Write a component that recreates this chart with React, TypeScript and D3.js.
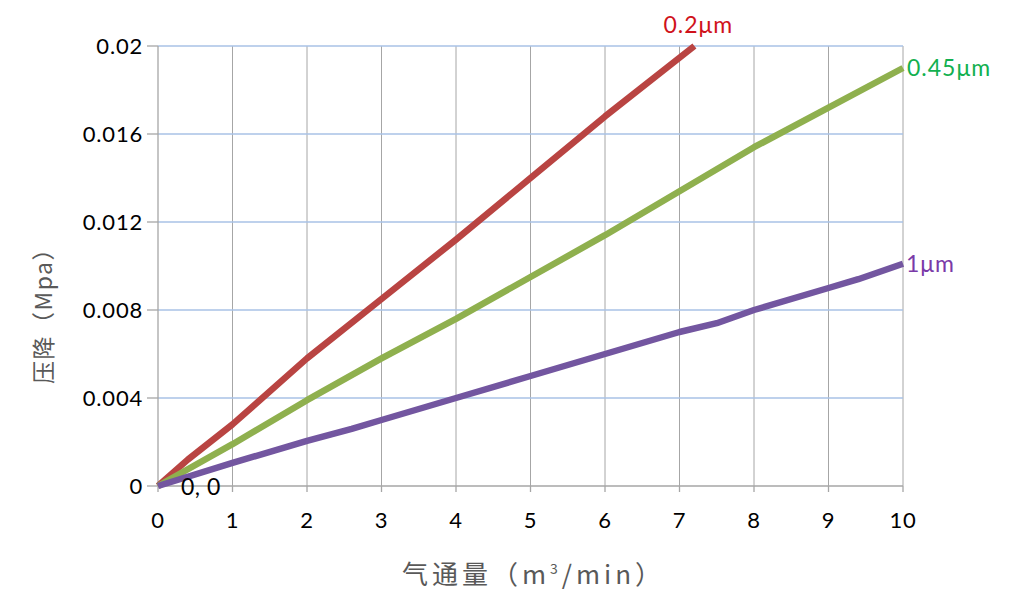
import * as d3 from "d3";

// flow (m3/min) vs pressure drop (MPa)
const flow02 = [0, 0.4, 1, 2, 3, 4, 5, 6, 7.2];
const drop02 = [0, 0.0012, 0.0028, 0.0058, 0.0085, 0.0112, 0.014, 0.0168, 0.02];

const flow045 = [0, 1, 2, 3, 4, 5, 6, 7, 8, 9, 10];
const drop045 = [0, 0.0019, 0.0039, 0.0058, 0.0076, 0.0095, 0.0114, 0.0134, 0.0154, 0.0172, 0.019];

const flow1 = [0, 1, 2, 2.6, 3, 4, 5, 6, 7, 7.5, 8, 9, 9.4, 10];
const drop1 = [0, 0.00105, 0.00205, 0.0026, 0.003, 0.004, 0.005, 0.006, 0.007, 0.0074, 0.008, 0.009, 0.0094, 0.0101];

const xTicks = [0, 1, 2, 3, 4, 5, 6, 7, 8, 9, 10];
const yTicks = [0, 0.004, 0.008, 0.012, 0.016, 0.02];
const yTickLabels = ["0", "0.004", "0.008", "0.012", "0.016", "0.02"];

const seriesNames = ["0.2μm", "0.45μm", "1μm"];
const lineColors = ["#b94442", "#8fb04e", "#7356a0"];
const labelColors = ["#d0121b", "#12b04f", "#7a3aa8"];

const W = 1019;
const H = 611;
const m = { left: 158, right: 116, top: 46, bottom: 125 };

export default function App() {
  const x = d3.scaleLinear().domain([0, 10]).range([m.left, W - m.right]);
  const y = d3.scaleLinear().domain([0, 0.02]).range([H - m.bottom, m.top]);

  const series = [
    { xs: flow02, ys: drop02 },
    { xs: flow045, ys: drop045 },
    { xs: flow1, ys: drop1 },
  ];

  const line = d3
    .line<[number, number]>()
    .x((d) => x(d[0]))
    .y((d) => y(d[1]));

  const numFont = "Lato, 'Open Sans', sans-serif";
  const cjkFont = "'Noto Sans CJK SC', 'Open Sans', sans-serif";

  return (
    <svg
      width={W}
      height={H}
      style={{ position: "absolute", left: 0, top: 0, background: "#fff" }}
    >
      {/* vertical grid */}
      {xTicks.slice(1).map((t) => (
        <line key={"vx" + t} x1={x(t)} x2={x(t)} y1={y(0.02)} y2={y(0)} stroke="#a6a6a6" strokeWidth={1} />
      ))}
      {/* horizontal grid */}
      {yTicks.slice(1).map((t) => (
        <line key={"hy" + t} x1={x(0)} x2={x(10)} y1={y(t)} y2={y(t)} stroke="#a8c2e6" strokeWidth={1.3} />
      ))}
      {/* axes */}
      <line x1={x(0)} x2={x(0)} y1={y(0.02)} y2={y(0)} stroke="#a6a6a6" strokeWidth={1.3} />
      <line x1={x(0)} x2={x(10)} y1={y(0)} y2={y(0)} stroke="#a6a6a6" strokeWidth={1.3} />
      {yTicks.map((t) => (
        <line key={"yt" + t} x1={x(0) - 11} x2={x(0)} y1={y(t)} y2={y(t)} stroke="#a6a6a6" strokeWidth={1.3} />
      ))}
      {xTicks.map((t) => (
        <line key={"xt" + t} x1={x(t)} x2={x(t)} y1={y(0)} y2={y(0) + 6} stroke="#a6a6a6" strokeWidth={1.3} />
      ))}
      {/* tick labels */}
      {yTicks.map((t, i) => (
        <text
          key={"yl" + t}
          x={x(0) - 15}
          y={y(t)}
          dy="0.36em"
          textAnchor="end"
          fontFamily={numFont}
          fontSize={22}
          letterSpacing={0.8}
          fill="#000"
        >
          {yTickLabels[i]}
        </text>
      ))}
      {xTicks.map((t) => (
        <text
          key={"xl" + t}
          x={x(t)}
          y={y(0) + 42}
          textAnchor="middle"
          fontFamily={numFont}
          fontSize={22}
          letterSpacing={0.8}
          fill="#000"
        >
          {t}
        </text>
      ))}
      {/* lines */}
      {series.map((s, i) => (
        <path
          key={"s" + i}
          d={line(s.xs.map((v, j) => [v, s.ys[j]] as [number, number])) || ""}
          fill="none"
          stroke={lineColors[i]}
          strokeWidth={6.5}
          strokeLinejoin="round"
        />
      ))}
      {/* series labels */}
      <text
        x={x(flow02[flow02.length - 1]) + 4}
        y={y(drop02[drop02.length - 1]) - 13}
        textAnchor="middle"
        fontFamily={numFont}
        fontSize={23}
        letterSpacing={1}
        fill={labelColors[0]}
      >
        {seriesNames[0]}
      </text>
      <text
        x={x(flow045[flow045.length - 1]) + 4}
        y={y(drop045[drop045.length - 1])}
        dy="0.35em"
        fontFamily={numFont}
        fontSize={23}
        letterSpacing={1}
        fill={labelColors[1]}
      >
        {seriesNames[1]}
      </text>
      <text
        x={x(flow1[flow1.length - 1]) + 3}
        y={y(drop1[drop1.length - 1])}
        dy="0.35em"
        fontFamily={numFont}
        fontSize={23}
        letterSpacing={1}
        fill={labelColors[2]}
      >
        {seriesNames[2]}
      </text>
      {/* origin label */}
      <text x={x(0) + 23} y={y(0) + 9} fontFamily={numFont} fontSize={23} letterSpacing={0.5} fill="#000">
        0, 0
      </text>
      {/* axis titles */}
      <text
        transform={`translate(52, ${(y(0) + y(0.02)) / 2 + 44}) rotate(-90)`}
        textAnchor="middle"
        fontFamily={cjkFont}
        fontSize={23}
        fill="#595959"
        letterSpacing={1.5}
      >
        压降（Mpa）
      </text>
      <text
        x={(x(0) + x(10)) / 2 + 3}
        y={584}
        textAnchor="middle"
        fontFamily={cjkFont}
        fontSize={26}
        fill="#595959"
        letterSpacing={4}
      >
        气通量（m<tspan dy={-10} fontSize={14}>3</tspan>
        <tspan dy={10}>/min）</tspan>
      </text>
    </svg>
  );
}
